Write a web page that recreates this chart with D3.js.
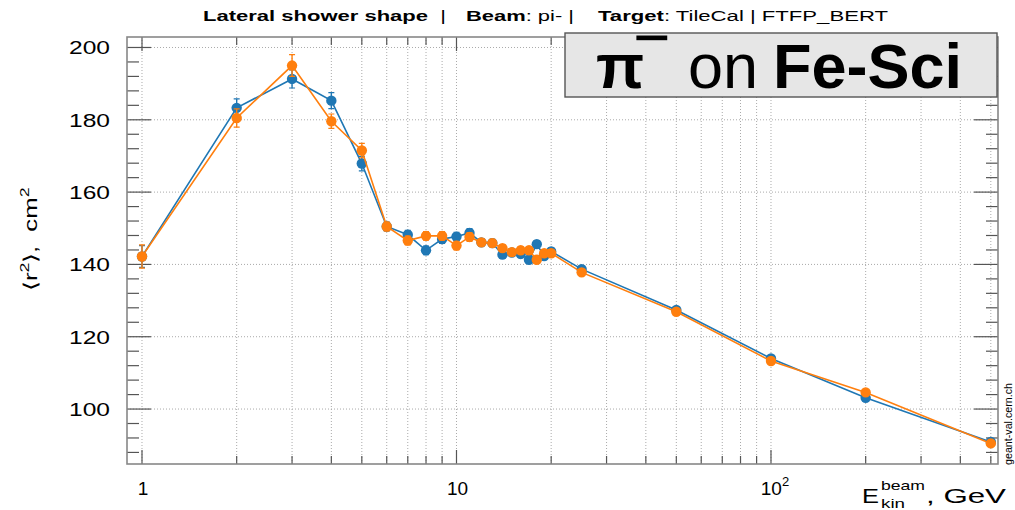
<!DOCTYPE html>
<html lang="en">
<head>
<meta charset="UTF-8">
<title>Lateral shower shape</title>
<script src="https://d3js.org/d3.v7.min.js"></script>
<style>
body,html{margin:0;padding:0;background:#fff;}
text{font-family:"Liberation Sans",Arial,sans-serif;white-space:pre;}
</style>
</head>
<body>
<svg width="1015" height="510"></svg>
<script>
// beam energies, GeV
const energies = [1,2,3,4,5,6,7,8,9,10,11,12,13,14,15,16,17,18,19,20,25,50,100,200,500];
// <r^2> for the two series (blue, orange)
const blueVals   = [142.2,183.3,191.3,185.3,167.9,150.5,148.2,143.9,147.0,147.7,148.7,146.1,145.9,142.7,143.3,142.9,141.3,145.6,142.3,143.6,138.7,127.4,114.0,103.1,90.9];
const blueErr    = [3.0,2.5,2.5,2.2,2.0,1.2,1.2,1.2,1.2,1.2,1.2,1.0,1.0,1.0,1.0,1.0,1.0,1.0,1.0,1.0,0.8,0.8,0.8,0.8,0.8];
const orangeVals = [142.2,180.5,195.0,179.6,171.5,150.5,146.6,147.9,147.9,145.2,147.6,146.1,145.9,144.5,143.4,143.9,143.9,141.3,143.1,143.1,137.8,126.9,113.3,104.6,90.5];
const orangeErr  = [3.2,2.5,3.0,2.0,2.0,1.2,1.2,1.2,1.2,1.2,1.2,1.0,1.0,1.0,1.0,1.0,1.0,1.0,1.0,1.0,0.8,0.8,0.8,0.8,0.8];
const yTicks = [100,120,140,160,180,200];
const xTickLabels = [[1,"1"],[10,"10"],[100,"10"]];

let svg = d3.select("svg"),
  mLeft = 127, mRight = 998, mTop = 37, mBottom = 464;

let x = d3.scaleLog().domain([0.896, 527]).range([mLeft, mRight]);
let y = d3.scaleLinear().domain([84.8, 202.9]).range([mBottom, mTop]);

// minor x values
let xMinor = [];
[1,10,100].forEach(d => { for (let k = 1; k < 10; k++) { let v = d*k; if (v <= 527 && v >= 0.896) xMinor.push(v); } });
let yMinor = d3.range(88, 203, 4);

// grid
let grid = svg.append("g").attr("stroke", "#aaa").attr("stroke-width", 1).attr("stroke-dasharray", "1,2");
grid.selectAll(".vg").data(xMinor).enter().append("line")
  .attr("x1", d => x(d)).attr("x2", d => x(d)).attr("y1", mTop).attr("y2", mBottom);
grid.selectAll(".hg").data(yTicks).enter().append("line")
  .attr("x1", mLeft).attr("x2", mRight).attr("y1", d => y(d)).attr("y2", d => y(d));

// ticks
let ax = svg.append("g").attr("stroke", "#555").attr("stroke-width", 1.2);
yMinor.forEach(v => {
  let len = yTicks.includes(v) ? 24 : 12;
  ax.append("line").attr("x1", mLeft).attr("x2", mLeft + len).attr("y1", y(v)).attr("y2", y(v));
  ax.append("line").attr("x1", mRight).attr("x2", mRight - len).attr("y1", y(v)).attr("y2", y(v));
});
xMinor.forEach(v => {
  let len = [1,10,100].includes(v) ? 14 : 8;
  ax.append("line").attr("x1", x(v)).attr("x2", x(v)).attr("y1", mBottom).attr("y2", mBottom - len);
  ax.append("line").attr("x1", x(v)).attr("x2", x(v)).attr("y1", mTop).attr("y2", mTop + len);
});

// frame
svg.append("rect").attr("x", mLeft).attr("y", mTop).attr("width", mRight - mLeft).attr("height", mBottom - mTop)
  .attr("fill", "none").attr("stroke", "#888").attr("stroke-width", 1.6);

// tick labels
svg.append("g").selectAll("text").data(yTicks).enter().append("text")
  .attr("x", 110).attr("y", d => y(d) + 7).attr("text-anchor", "end")
  .attr("font-size", 19).attr("textLength", 41).attr("lengthAdjust", "spacingAndGlyphs")
  .text(d => d);
let xl = svg.append("g").selectAll("text").data(xTickLabels).enter().append("text")
  .attr("x", d => x(d[0]) + (d[0] === 100 ? 4 : 1)).attr("y", 495).attr("text-anchor", "middle").attr("font-size", 19);
xl.text(d => d[1]);
xl.filter(d => d[0] === 100).append("tspan").attr("dy", -9).attr("font-size", 13).text("2");

// series
let line = d3.line().x((d, i) => x(energies[i])).y(d => y(d));
function drawSeries(vals, errs, color) {
  let g = svg.append("g");
  g.append("path").datum(vals).attr("d", line).attr("fill", "none")
    .attr("stroke", color).attr("stroke-width", 1.6);
  g.selectAll(".err").data(vals).enter().append("line")
    .attr("x1", (d, i) => x(energies[i])).attr("x2", (d, i) => x(energies[i]))
    .attr("y1", (d, i) => y(d - errs[i])).attr("y2", (d, i) => y(d + errs[i]))
    .attr("stroke", color).attr("stroke-width", 1.4);
  g.selectAll(".cap").data(vals).enter().append("path")
    .attr("d", (d, i) => {
      let cx = x(energies[i]);
      return `M${cx-3},${y(d-errs[i])}H${cx+3}M${cx-3},${y(d+errs[i])}H${cx+3}`;
    })
    .attr("stroke", color).attr("stroke-width", 1.2);
  g.selectAll("circle").data(vals).enter().append("circle")
    .attr("cx", (d, i) => x(energies[i])).attr("cy", d => y(d)).attr("r", 5.2)
    .attr("fill", color);
}
drawSeries(blueVals, blueErr, "#1f77b4");
drawSeries(orangeVals, orangeErr, "#ff7f0e");

// title, in three pieces
function titlePiece(x0, len, bold, rest) {
  let t = svg.append("text").attr("x", x0).attr("y", 21).attr("font-size", 15.5)
    .attr("textLength", len).attr("lengthAdjust", "spacingAndGlyphs");
  t.append("tspan").attr("font-weight", "bold").text(bold);
  t.append("tspan").text(rest);
}
titlePiece(203, 243, "Lateral shower shape", "  |");
titlePiece(466, 108, "Beam", ": pi- |");
titlePiece(598, 290, "Target", ": TileCal | FTFP_BERT");

// label box
svg.append("rect").attr("x", 565).attr("y", 33).attr("width", 432).attr("height", 64)
  .attr("fill", "#e6e6e6").attr("stroke", "#555").attr("stroke-width", 1.4);
let lab = svg.append("text").attr("font-size", 63);
lab.append("tspan").attr("x", 596).attr("y", 88).attr("font-weight", "bold").text("π");
// superscript minus, drawn as a thick macron
lab.append("tspan").attr("x", 638).attr("y", 75).attr("font-size", 50).attr("font-weight", "bold")
  .attr("stroke", "#000").attr("stroke-width", 2.4).text("¯");
lab.append("tspan").attr("x", 688).attr("y", 88).text("on");
lab.append("tspan").attr("x", 773).attr("y", 88).attr("font-weight", "bold").text("Fe-Sci");

// axis titles
let yt = svg.append("text").attr("transform", "translate(37,239) rotate(-90)")
  .attr("text-anchor", "middle").attr("font-size", 19)
  .attr("textLength", 103).attr("lengthAdjust", "spacingAndGlyphs");
yt.append("tspan").text("⟨r");
yt.append("tspan").attr("dy", -8).attr("font-size", 13).text("2");
yt.append("tspan").attr("dy", 8).text("⟩,  cm");
yt.append("tspan").attr("dy", -8).attr("font-size", 13).text("2");

svg.append("text").attr("x", 862).attr("y", 503).attr("font-size", 21)
  .attr("textLength", 17).attr("lengthAdjust", "spacingAndGlyphs").text("E");
svg.append("text").attr("x", 881).attr("y", 490).attr("font-size", 13)
  .attr("textLength", 44).attr("lengthAdjust", "spacingAndGlyphs").text("beam");
svg.append("text").attr("x", 881).attr("y", 508).attr("font-size", 13)
  .attr("textLength", 24).attr("lengthAdjust", "spacingAndGlyphs").text("kin");
svg.append("text").attr("x", 926).attr("y", 503).attr("font-size", 21)
  .attr("textLength", 80).attr("lengthAdjust", "spacingAndGlyphs").text(", GeV");

svg.append("text").attr("transform", "translate(1012,465) rotate(-90)")
  .attr("font-size", 11).attr("textLength", 82).attr("lengthAdjust", "spacingAndGlyphs")
  .text("geant-val.cern.ch");
</script>
</body>
</html>
